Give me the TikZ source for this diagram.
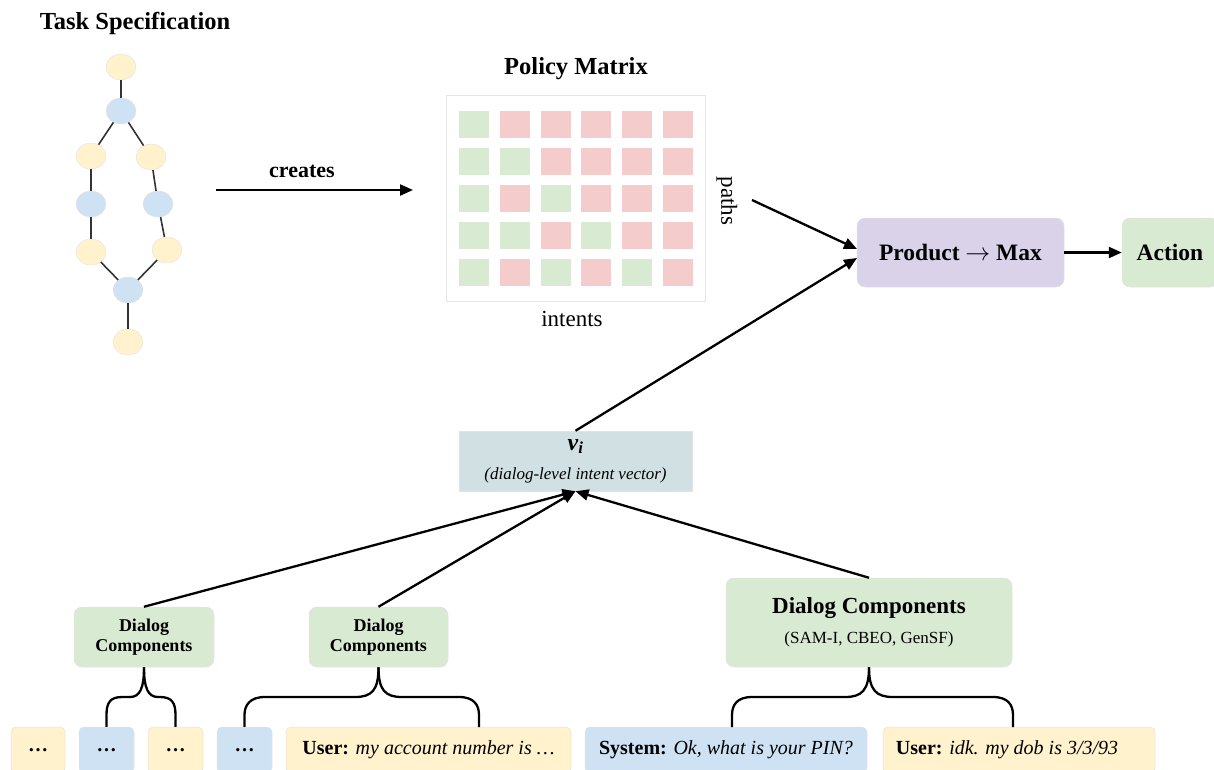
\documentclass[tikz,border=0pt]{standalone}
\usepackage{fontspec}
\setmainfont{Liberation Serif}
\usetikzlibrary{arrows.meta,shapes.geometric,calc}
\definecolor{cYel}{HTML}{FFF2CC}
\definecolor{cBlu}{HTML}{CFE2F3}
\definecolor{cGrn}{HTML}{D9EAD3}
\definecolor{cRed}{HTML}{F4CCCC}
\definecolor{cPur}{HTML}{D9D2E9}
\definecolor{cVec}{HTML}{D0E0E3}
\definecolor{cEdge}{HTML}{E2E2E2}
\colorlet{cG}{cGrn}
\colorlet{cR}{cRed}
\tikzset{
  tnode/.style={ellipse, minimum width=30pt, minimum height=26pt, inner sep=0pt, draw=cEdge, line width=0.4pt},
  ty/.style={tnode, fill=cYel},
  tb/.style={tnode, fill=cBlu},
  tedge/.style={draw=black!80, line width=1.6pt},
  arr/.style={line width=2.3pt, -{Triangle[length=13pt,width=11pt]}},
  bracestyle/.style={line width=2.3pt},
  box/.style={rectangle, rounded corners=8pt, draw=cEdge, line width=0.5pt, inner sep=0pt, align=center},
  sbox/.style={rectangle, rounded corners=5pt, draw=cEdge, line width=0.5pt, inner sep=0pt, minimum height=46pt,
    font=\fontsize{20}{24}\selectfont},
  title/.style={font=\bfseries\fontsize{24.5}{28}\selectfont},
  plain/.style={font=\fontsize{23}{26}\selectfont},
}
\begin{document}
\begin{tikzpicture}[x=1pt,y=-1pt]
\path[use as bounding box] (0,0) rectangle (1214,769);
\clip (0,0) rectangle (1214,769);

% ---------- Task specification ----------
\node[title] (tstitle) at (135,23) {Task Specification};
\node[ty] (t1) at (121,67) {};
\node[tb] (t2) at (121,111) {};
\node[ty] (t3) at (91,156) {};
\node[ty] (t4) at (151,157) {};
\node[tb] (t5) at (91,204) {};
\node[tb] (t6) at (158,204) {};
\node[ty] (t7) at (91,252) {};
\node[ty] (t8) at (167,250) {};
\node[tb] (t9) at (128,290) {};
\node[ty] (t10) at (128,342) {};
\draw[tedge] (t1) -- (t2);
\draw[tedge] (t2) -- (t3);
\draw[tedge] (t2) -- (t4);
\draw[tedge] (t3) -- (t5);
\draw[tedge] (t5) -- (t7);
\draw[tedge] (t4) -- (t6);
\draw[tedge] (t6) -- (t8);
\draw[tedge] (t7) -- (t9);
\draw[tedge] (t8) -- (t9);
\draw[tedge] (t9) -- (t10);

% ---------- creates ----------
\coordinate (cs) at (216,190);
\coordinate (ce) at (413,190);
\draw[arr] (cs) -- (ce);
\node[font=\bfseries\fontsize{22}{26}\selectfont] (creates) at (302,171) {creates};

% ---------- Policy matrix ----------
\node[title] (pmtitle) at (576,69) {Policy Matrix};
\node[rectangle, fill=white, draw=black!10, line width=0.6pt, minimum width=259pt, minimum height=206pt, inner sep=0pt] (pm) at (575.5,198) {};
\foreach \row [count=\i from 0] in {{G,R,R,R,R,R},{G,G,R,R,R,R},{G,R,G,R,R,R},{G,G,R,G,R,R},{G,R,G,R,G,R}} {
  \foreach \c [count=\j from 0] in \row {
    \fill[c\c] ({459+40.8*\j},{111+37*\i}) rectangle ++(30,27);
  }
}
\node[plain] (intents) at (572,319) {intents};
\node[plain, rotate=-90] (paths) at (727,201) {paths};

% ---------- Product / Action ----------
\node[box, fill=cPur, minimum width=207pt, minimum height=69pt, font=\bfseries\fontsize{23.5}{27}\selectfont] (prod) at (960.5,252.5) {Product $\rightarrow$ Max};
\node[box, fill=cGrn, minimum width=96pt, minimum height=69pt, font=\bfseries\fontsize{23.5}{27}\selectfont] (act) at (1170,252.5) {Action};
\coordinate (ps) at (752,200);
\coordinate (pin1) at (857,249);
\coordinate (pin2) at (857,258);
\draw[arr] (ps) -- (pin1);
\draw[arr] (prod.east) -- (act.west);

% ---------- intent vector ----------
\node[rectangle, fill=cVec, draw=cEdge, line width=0.5pt, minimum width=233pt, minimum height=60pt, inner sep=0pt, align=center,
  font=\fontsize{17}{29}\selectfont] (vi) at (575.5,461)
  {{\bfseries\itshape\fontsize{24}{27}\selectfont v\textsubscript{i}}\\{\itshape (dialog-level intent vector)}};
\draw[arr] (vi.north) -- (pin2);

% ---------- Dialog components ----------
\node[box, fill=cGrn, minimum width=140pt, minimum height=60pt, font=\bfseries\fontsize{18}{20}\selectfont] (dc1) at (144,637) {Dialog\\Components};
\node[box, fill=cGrn, minimum width=139pt, minimum height=60pt, font=\bfseries\fontsize{18}{20}\selectfont] (dc2) at (378.5,637) {Dialog\\Components};
\node[box, fill=cGrn, minimum width=286pt, minimum height=89pt, font=\fontsize{17}{30}\selectfont] (dc3) at (869,622.5)
  {{\bfseries\fontsize{23}{26}\selectfont Dialog Components}\\(SAM-I, CBEO, GenSF)};
\draw[arr] (dc1.north) -- (vi.south);
\draw[arr] (dc2.north) -- (vi.south);
\draw[arr] (dc3.north) -- (vi.south);

% ---------- Utterance boxes ----------
\node[sbox, fill=cYel, minimum width=54pt] (b1) at (38,750) {\textbf{…}};
\node[sbox, fill=cBlu, minimum width=55pt] (b2) at (106.5,750) {\textbf{…}};
\node[sbox, fill=cYel, minimum width=55pt] (b3) at (175.5,750) {\textbf{…}};
\node[sbox, fill=cBlu, minimum width=55pt] (b4) at (244.5,750) {\textbf{…}};
\node[sbox, fill=cYel, minimum width=285pt] (u1) at (428.5,750) {\textbf{User:} \textit{my account number is …}};
\node[sbox, fill=cBlu, minimum width=282pt] (s1) at (726,750) {\textbf{System:} \textit{Ok, what is your PIN?}};
\node[sbox, fill=cYel, minimum width=272pt] (u2) at (1019,750) {};
\node[anchor=west, font=\fontsize{20}{24}\selectfont, inner sep=0pt] (u2t) at ($(u2.west)+(13,0)$) {\textbf{User:} \textit{idk. my dob is 3/3/93}};
\coordinate (u1top) at (479,727);
\coordinate (s1top) at (732,727);
\coordinate (u2top) at (1013,727);

% ---------- Braces ----------
\draw[bracestyle] (dc1.south) .. controls (144,688) and (140,697) .. (130,697) -- (122,697)
   .. controls (110,697) and (106.5,703) .. (106.5,715) -- (b2.north);
\draw[bracestyle] (dc1.south) .. controls (144,688) and (148,697) .. (158,697) -- (160,697)
   .. controls (172,697) and (175.5,703) .. (175.5,715) -- (b3.north);
\draw[bracestyle] (dc2.south) .. controls (378.5,690) and (372,697) .. (355,697) -- (265,697)
   .. controls (250,697) and (244.5,705) .. (244.5,715) -- (b4.north);
\draw[bracestyle] (dc2.south) .. controls (378.5,690) and (385,697) .. (402,697) -- (459,697)
   .. controls (474,697) and (479,705) .. (479,715) -- (u1top);
\draw[bracestyle] (dc3.south) .. controls (869,690) and (862,697) .. (845,697) -- (752,697)
   .. controls (737,697) and (732,705) .. (732,715) -- (s1top);
\draw[bracestyle] (dc3.south) .. controls (869,690) and (876,697) .. (893,697) -- (993,697)
   .. controls (1008,697) and (1013,705) .. (1013,715) -- (u2top);
\end{tikzpicture}
\end{document}
